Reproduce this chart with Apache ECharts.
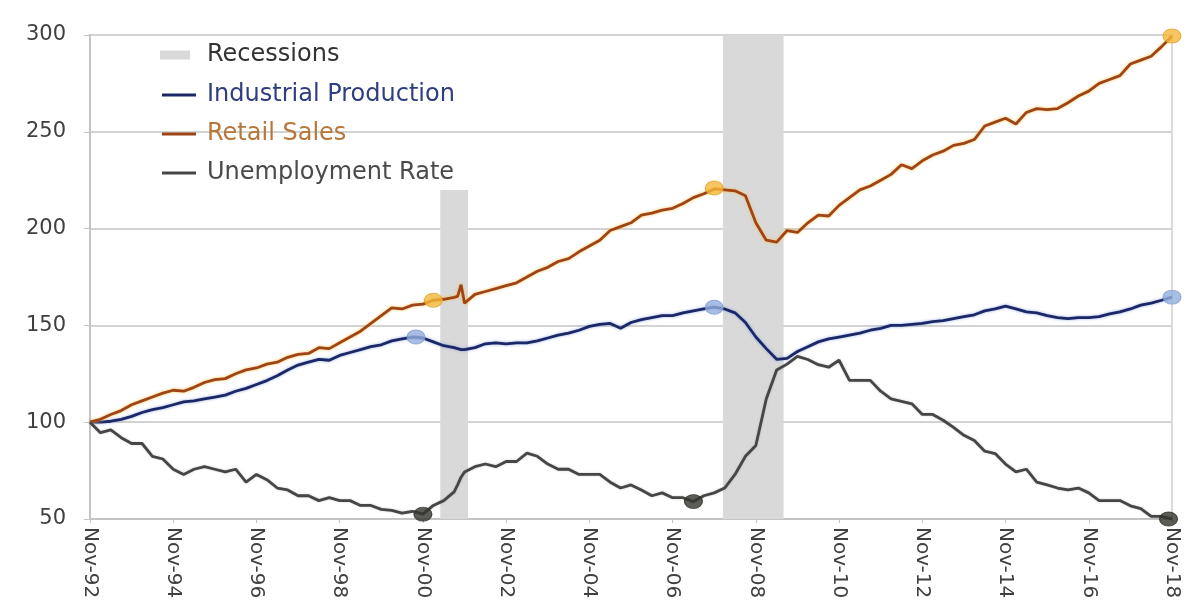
<!DOCTYPE html>
<html>
<head>
<meta charset="utf-8">
<script src="https://cdn.jsdelivr.net/npm/echarts@6/dist/echarts.min.js"></script>
<style>
html,body{margin:0;padding:0;background:#fff;}
#chart{width:1203px;height:611px;}
</style>
</head>
<body>
<div id="chart"></div>
<script>
// Month index since Nov-92 (quarterly, plus Sep/Oct-01)
const months = [];
for (let m = 0; m <= 312; m += 3) { months.push(m); if (m === 105) { months.push(106, 107); } }

const retailSales = [100,101.5,104,106,109,111,113,115,116.5,116,118,120.5,122,122.5,125,127,128,130,131,133.5,135,135.5,138.5,138,141,144,147,151,155,159,158.5,160.5,161,163,163.5,164.5,165,171,161.5,166,167.5,169,170.5,172,175,178,180,183,184.5,188,191,194,199,201,203,207,208,209.5,210.5,213,216,218,220.5,220,219.5,217,203,194,193,199,198,203,207,206.5,212,216,220,222,225,228,233,231,235,238,240,243,244,246,253,255,257,254,260,262,261.5,262,265,268.5,271,275,277,279,285,287,289,294,299.5];

const industrialProduction = [100,100,100.5,101.5,103,105,106.5,107.5,109,110.5,111,112,113,114,116,117.5,119.5,121.5,124,127,129.5,131,132.5,132,134.5,136,137.5,139,140,142,143,144,143.5,141.5,139.5,138.5,138,137.5,137.5,138.5,140.5,141,140.5,141,141,142,143.5,145,146,147.5,149.5,150.5,151,148.5,151.5,153,154,155,155,156.5,157.5,158.5,159.5,158.5,156.5,151.5,144,138,132.5,133,136.5,139,141.5,143,144,145,146,147.5,148.5,150,150,150.5,151,152,152.5,153.5,154.5,155.5,157.5,158.5,160,158.5,157,156.5,155,154,153.5,154,154,154.5,156,157,158.5,160.5,161.5,163,164.6];

const unemploymentRate = [100,94.6,96,92,89,89,82.4,81,75.7,73,75.7,77,75.7,74.3,75.7,69,73,70.3,66,65,62,62,59.5,61,59.5,59.5,57,57,55,54.5,53,54,52.5,57,59.5,64,67.6,71.6,74.3,77,78.4,77,79.7,79.7,84,82.4,78.4,75.7,75.7,73,73,73,69,66,67.6,65,62,63.5,61,61,59,62,63.5,66,73,82.4,88,112,127,130,134,132.4,129.7,128.4,132,121.6,121.6,121.6,116,112,110.8,109.5,104,104,101,97.3,93.2,90.5,85,83.8,78.4,74.3,75.7,69,67.6,66,65,66,63.5,59.5,59.5,59.5,56.8,55.4,51.4,51.4,50];

// Highlight dots [month index, value]
const rsDots = [[99,163],[180,221],[312,299.5]];
const ipDots = [[94,144],[180,159.4],[312,164.6]];
const urDots = [[96,52.5],[174,59],[311,50]];

// Recessions: [start month, end month, top value]
const recessions = [[101,109,220],[182.5,200,300]];

const yTicks = [50,100,150,200,250,300];

const pair = arr => months.map((m, i) => [m, arr[i]]);
const monthLabel = m => { const yy = (92 + Math.round(m / 12)) % 100; return 'Nov-' + String(yy).padStart(2, '0'); };

const chart = echarts.init(document.getElementById('chart'));
const FONT = 'DejaVu Sans';

chart.setOption({
  animation: false,
  backgroundColor: '#ffffff',
  textStyle: { fontFamily: FONT },
  grid: { left: 90, right: 31, top: 35, bottom: 92, show: true, borderColor: '#CFCFCF', borderWidth: 1.5, backgroundColor: 'transparent' },
  legend: [
    {
      orient: 'vertical', left: 155, top: 38, itemWidth: 30, itemHeight: 9, itemGap: 14,
      textStyle: { fontSize: 24, fontFamily: FONT, padding: [0,0,0,12] }, selectedMode: false,
      data: [{ name: 'Recessions', icon: 'rect', textStyle: { color: '#333333' } }]
    },
    {
      orient: 'vertical', left: 157, top: 78, itemWidth: 34, itemHeight: 3, itemGap: 15,
      textStyle: { fontSize: 24, fontFamily: FONT, padding: [0,0,0,6] }, selectedMode: false,
      data: [
        { name: 'Industrial Production', icon: 'rect', textStyle: { color: '#2E3E7E' } },
        { name: 'Retail Sales', icon: 'rect', textStyle: { color: '#B8773A' } },
        { name: 'Unemployment Rate', icon: 'rect', textStyle: { color: '#4A4A4A' } }
      ]
    }
  ],
  xAxis: {
    type: 'value', min: 0, max: 312, interval: 24,
    axisLine: { show: true, lineStyle: { color: '#C4C4C4', width: 2 } },
    axisTick: { show: true, length: 4, lineStyle: { color: '#C4C4C4' } },
    splitLine: { show: false },
    axisLabel: { rotate: -90, margin: 8, fontSize: 20, color: '#404040', fontFamily: FONT, formatter: monthLabel }
  },
  yAxis: {
    type: 'value', min: yTicks[0], max: yTicks[yTicks.length - 1], interval: 50,
    axisLine: { show: true, lineStyle: { color: '#C4C4C4', width: 2 } },
    axisTick: { show: true, length: 6, lineStyle: { color: '#C4C4C4' } },
    splitLine: { show: true, lineStyle: { color: '#D3D3D3', width: 2 } },
    axisLabel: { margin: 24, fontSize: 21, color: '#404040', fontFamily: FONT }
  },
  series: [
    {
      name: 'Recessions', type: 'line', data: [], color: '#D9D9D9', z: 1,
      markArea: {
        silent: true,
        itemStyle: { color: '#D9D9D9', opacity: 1 },
        data: recessions.map(r => [{ xAxis: r[0], yAxis: 50 }, { xAxis: r[1], yAxis: r[2] }])
      }
    },
    {
      name: 'Industrial Production', type: 'line', data: pair(industrialProduction), symbol: 'none', z: 3,
      color: '#1B2766',
      lineStyle: { width: 2.8, color: '#1B2766', shadowColor: 'rgba(120,150,215,0.8)', shadowBlur: 3 }
    },
    {
      name: 'Retail Sales', type: 'line', data: pair(retailSales), symbol: 'none', z: 3,
      color: '#9E4416',
      lineStyle: { width: 2.8, color: '#9E4416', shadowColor: 'rgba(250,190,70,0.9)', shadowBlur: 3 }
    },
    {
      name: 'Unemployment Rate', type: 'line', data: pair(unemploymentRate), symbol: 'none', z: 3,
      color: '#464646',
      lineStyle: { width: 2.8, color: '#464646', shadowColor: 'rgba(150,150,150,0.6)', shadowBlur: 2 }
    },
    { name: 'rsDots', type: 'scatter', data: rsDots, symbolSize: [18, 14], z: 5, clip: false,
      itemStyle: { color: '#F5B83A', borderColor: '#E2A02A', borderWidth: 1 } },
    { name: 'ipDots', type: 'scatter', data: ipDots, symbolSize: [18, 14], z: 5, clip: false,
      itemStyle: { color: '#93AEDC', borderColor: '#7F9BD0', borderWidth: 1 } },
    { name: 'urDots', type: 'scatter', data: urDots, symbolSize: [18, 14], z: 5, clip: false,
      itemStyle: { color: '#33352C', borderColor: '#2A2B24', borderWidth: 1 } }
  ]
});
</script>
</body>
</html>
